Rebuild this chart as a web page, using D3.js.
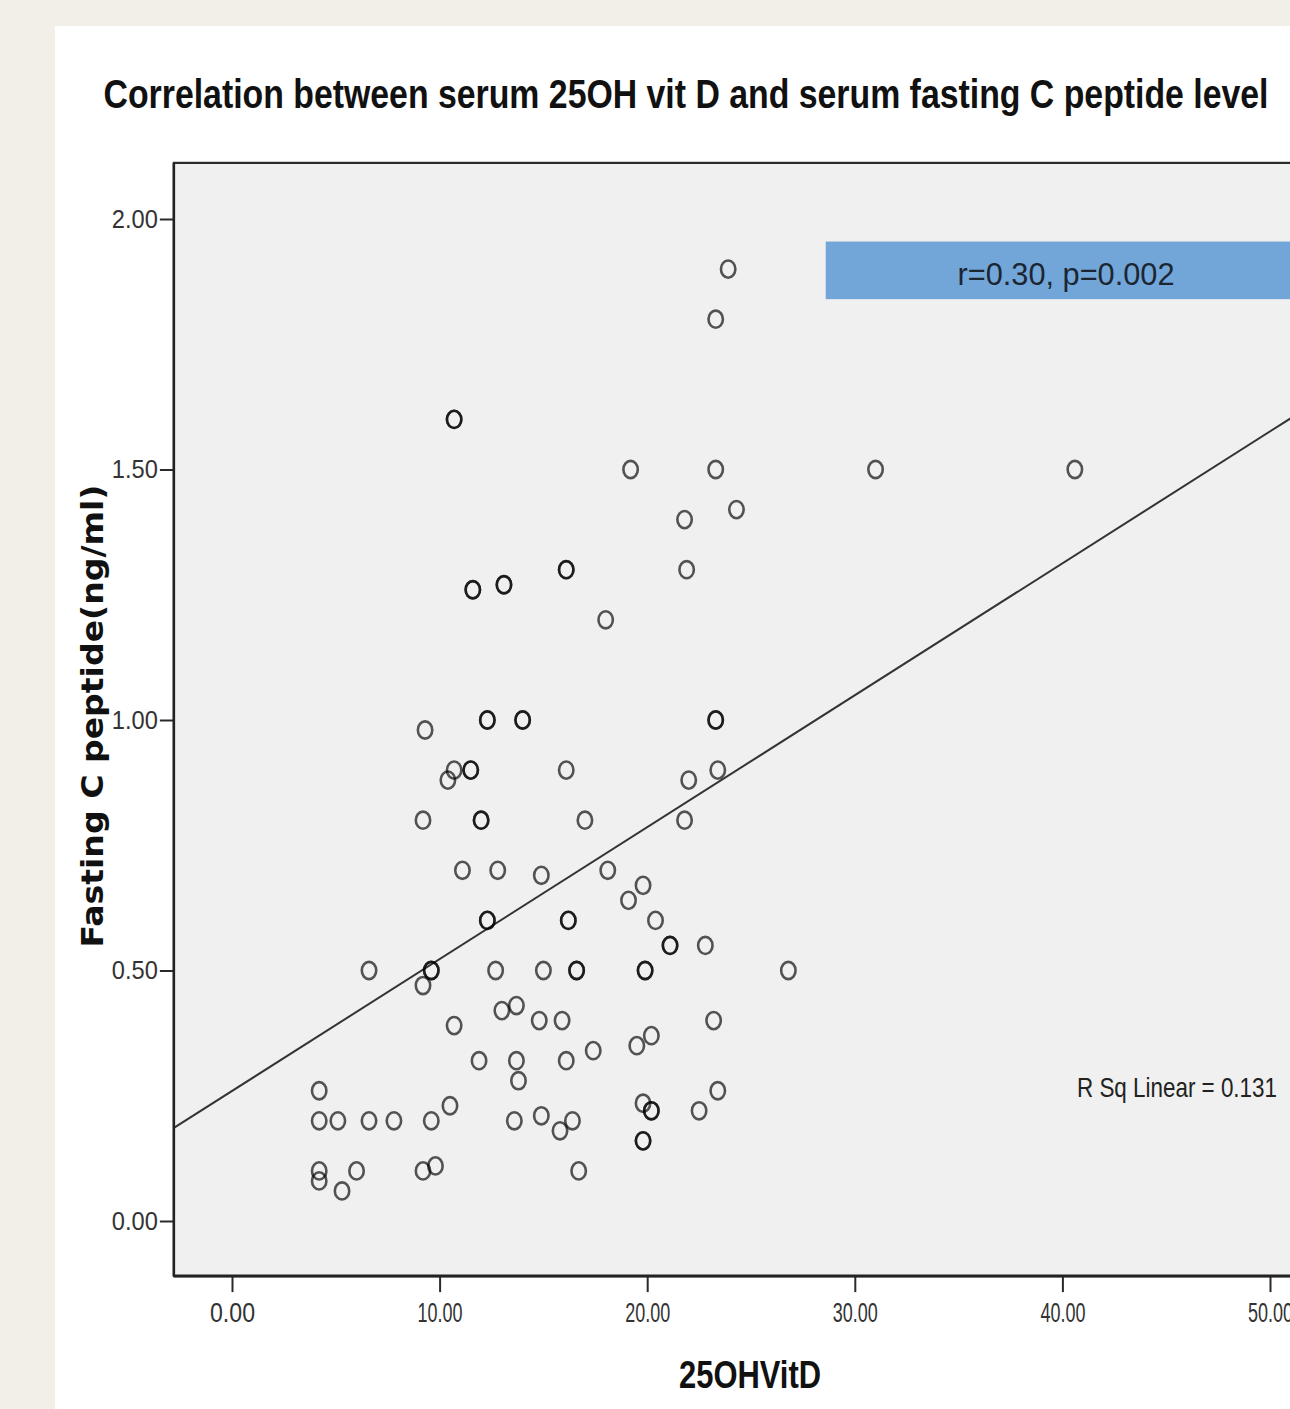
<!DOCTYPE html>
<html>
<head>
<meta charset="utf-8">
<script src="https://cdn.jsdelivr.net/npm/d3@7"></script>
<style>
  html, body { margin: 0; padding: 0; background: #f2efe8; }
  svg { display: block; }
</style>
</head>
<body>
<svg id="chart" width="1290" height="1409"></svg>
<script>
// ---- Data ----
const vitD = [
  23.9, 23.3, 10.7, 10.7, 19.2, 23.3, 31.0, 40.6, 21.8, 24.3,
  16.1, 16.1, 21.9, 11.6, 11.6, 13.1, 13.1, 18.0, 9.3, 12.3,
  12.3, 14.0, 14.0, 23.3, 23.3, 10.4, 10.7, 11.5, 11.5, 16.1,
  22.0, 23.4, 9.2, 12.0, 12.0, 17.0, 21.8, 11.1, 12.8, 14.9,
  18.1, 19.8, 19.1, 12.3, 12.3, 16.2, 16.2, 20.4, 21.1, 21.1,
  22.8, 6.6, 9.6, 9.6, 9.2, 12.7, 15.0, 16.6, 16.6, 19.9,
  19.9, 26.8, 10.7, 13.0, 13.7, 14.8, 15.9, 11.9, 13.7, 13.8,
  16.1, 17.4, 19.5, 20.2, 23.2, 4.2, 4.2, 5.1, 6.6, 7.8,
  9.6, 10.5, 13.6, 14.9, 15.8, 16.4, 19.8, 20.2, 20.2, 19.8,
  19.8, 22.5, 23.4, 4.2, 4.2, 5.3, 6.0, 9.2, 9.8, 16.7
];
const cPeptide = [
  1.90, 1.80, 1.60, 1.60, 1.50, 1.50, 1.50, 1.50, 1.40, 1.42,
  1.30, 1.30, 1.30, 1.26, 1.26, 1.27, 1.27, 1.20, 0.98, 1.00,
  1.00, 1.00, 1.00, 1.00, 1.00, 0.88, 0.90, 0.90, 0.90, 0.90,
  0.88, 0.90, 0.80, 0.80, 0.80, 0.80, 0.80, 0.70, 0.70, 0.69,
  0.70, 0.67, 0.64, 0.60, 0.60, 0.60, 0.60, 0.60, 0.55, 0.55,
  0.55, 0.50, 0.50, 0.50, 0.47, 0.50, 0.50, 0.50, 0.50, 0.50,
  0.50, 0.50, 0.39, 0.42, 0.43, 0.40, 0.40, 0.32, 0.32, 0.28,
  0.32, 0.34, 0.35, 0.37, 0.40, 0.26, 0.20, 0.20, 0.20, 0.20,
  0.20, 0.23, 0.20, 0.21, 0.18, 0.20, 0.235, 0.22, 0.22, 0.16,
  0.16, 0.22, 0.26, 0.10, 0.08, 0.06, 0.10, 0.10, 0.11, 0.10
];
const xTicks = [0, 10, 20, 30, 40, 50];
const yTicks = [0, 0.5, 1.0, 1.5, 2.0];
const fitIntercept = 0.2595;   // linear fit line
const fitSlope = 0.02633;
const titleText = "Correlation between serum 25OH vit D and serum fasting C peptide level";
const xLabel = "25OHVitD";
const yLabel = "Fasting C peptide(ng/ml)";
const statText = "r=0.30, p=0.002";
const rsqText = "R Sq Linear = 0.131";
const xDomainPlot = [-2.8, 53];
const yDomainPlot = [-0.11, 2.112];

// ---- Layout ----
const svg = d3.select("#chart");
const x = d3.scaleLinear().domain([0, 50]).range([232, 1270]);
const y = d3.scaleLinear().domain([0, 2]).range([1221, 219]);

const pL = x(xDomainPlot[0]), pR = x(xDomainPlot[1]);
const pT = y(yDomainPlot[1]), pB = y(yDomainPlot[0]);

// page panels
svg.append("rect").attr("x", 0).attr("y", 0).attr("width", 1290).attr("height", 1409).attr("fill", "#f2efe8");
svg.append("rect").attr("x", 55).attr("y", 26).attr("width", 1300).attr("height", 1400).attr("fill", "#ffffff");

// plot area
svg.append("rect").attr("x", pL).attr("y", pT).attr("width", pR - pL).attr("height", pB - pT)
  .attr("fill", "#f0f0f0").attr("stroke", "#2a2a2a").attr("stroke-width", 2.2);

svg.append("clipPath").attr("id", "clip").append("rect")
  .attr("x", pL).attr("y", pT).attr("width", pR - pL).attr("height", pB - pT);

// stat box
const boxX0 = 28.6, boxY0 = 1.955, boxY1 = 1.84;
svg.append("rect")
  .attr("x", x(boxX0)).attr("y", y(boxY0))
  .attr("width", pR - x(boxX0)).attr("height", y(boxY1) - y(boxY0))
  .attr("fill", "#72a6d8");
svg.append("text")
  .attr("x", 1066).attr("y", 285)
  .attr("text-anchor", "middle")
  .attr("font-family", "Liberation Sans, Arial, sans-serif")
  .attr("font-size", 31)
  .attr("fill", "#1c2633")
  .attr("textLength", 217).attr("lengthAdjust", "spacingAndGlyphs")
  .text(statText);

// fit line
const g = svg.append("g").attr("clip-path", "url(#clip)");
g.append("line")
  .attr("x1", x(xDomainPlot[0])).attr("y1", y(fitIntercept + fitSlope * xDomainPlot[0]))
  .attr("x2", x(xDomainPlot[1])).attr("y2", y(fitIntercept + fitSlope * xDomainPlot[1]))
  .attr("stroke", "#333").attr("stroke-width", 2);

// points
const pts = vitD.map((v, i) => ({ x: v, y: cPeptide[i] }));
g.selectAll("ellipse.pt").data(pts).enter().append("ellipse")
  .attr("class", "pt")
  .attr("cx", d => x(d.x)).attr("cy", d => y(d.y))
  .attr("rx", 7.2).attr("ry", 8.6)
  .attr("fill", "none")
  .attr("stroke", "#000").attr("stroke-opacity", 0.66).attr("stroke-width", 2.6);

// R sq text
svg.append("text")
  .attr("x", 1077).attr("y", 1097)
  .attr("font-family", "Liberation Sans, Arial, sans-serif")
  .attr("font-size", 28).attr("fill", "#222")
  .attr("textLength", 200).attr("lengthAdjust", "spacingAndGlyphs")
  .text(rsqText);

// axes
const fmt = d3.format(".2f");
const yAxis = svg.append("g").attr("transform", `translate(${pL},0)`)
  .call(d3.axisLeft(y).tickValues(yTicks).tickFormat(fmt).tickSize(14).tickPadding(2));
yAxis.select(".domain").remove();
yAxis.selectAll(".tick line").attr("stroke", "#2a2a2a").attr("stroke-width", 2);
yAxis.selectAll(".tick text")
  .attr("font-family", "Liberation Sans, Arial, sans-serif")
  .attr("font-size", 26).attr("fill", "#333")
  .attr("textLength", 46).attr("lengthAdjust", "spacingAndGlyphs");

const xAxis = svg.append("g").attr("transform", `translate(0,${pB})`)
  .call(d3.axisBottom(x).tickValues(xTicks).tickFormat(fmt).tickSize(16).tickPadding(11));
xAxis.select(".domain").remove();
xAxis.selectAll(".tick line").attr("stroke", "#2a2a2a").attr("stroke-width", 2);
xAxis.selectAll(".tick text")
  .attr("font-family", "Liberation Sans, Arial, sans-serif")
  .attr("font-size", 27).attr("fill", "#333")
  .attr("textLength", 45).attr("lengthAdjust", "spacingAndGlyphs");

// axis frame lines (heavier)
svg.append("line").attr("x1", pL).attr("x2", pL).attr("y1", pT).attr("y2", pB)
  .attr("stroke", "#222").attr("stroke-width", 2.5);
svg.append("line").attr("x1", pL).attr("x2", pR).attr("y1", pB).attr("y2", pB)
  .attr("stroke", "#222").attr("stroke-width", 3);

// titles
svg.append("text")
  .attr("x", 686).attr("y", 108)
  .attr("text-anchor", "middle")
  .attr("font-family", "Liberation Sans, Arial, sans-serif")
  .attr("font-weight", "bold").attr("font-size", 40).attr("fill", "#111")
  .attr("textLength", 1165).attr("lengthAdjust", "spacingAndGlyphs")
  .text(titleText);

svg.append("text")
  .attr("x", 750).attr("y", 1388)
  .attr("text-anchor", "middle")
  .attr("font-family", "Liberation Sans, Arial, sans-serif")
  .attr("font-weight", "bold").attr("font-size", 38).attr("fill", "#111")
  .attr("textLength", 142).attr("lengthAdjust", "spacingAndGlyphs")
  .text(xLabel);

svg.append("text")
  .attr("transform", "translate(103,716) rotate(-90)")
  .attr("text-anchor", "middle")
  .attr("font-family", "DejaVu Sans, Verdana, sans-serif")
  .attr("font-weight", "bold").attr("font-size", 30).attr("fill", "#111")
  .attr("textLength", 463).attr("lengthAdjust", "spacingAndGlyphs")
  .text(yLabel);
</script>
</body>
</html>
